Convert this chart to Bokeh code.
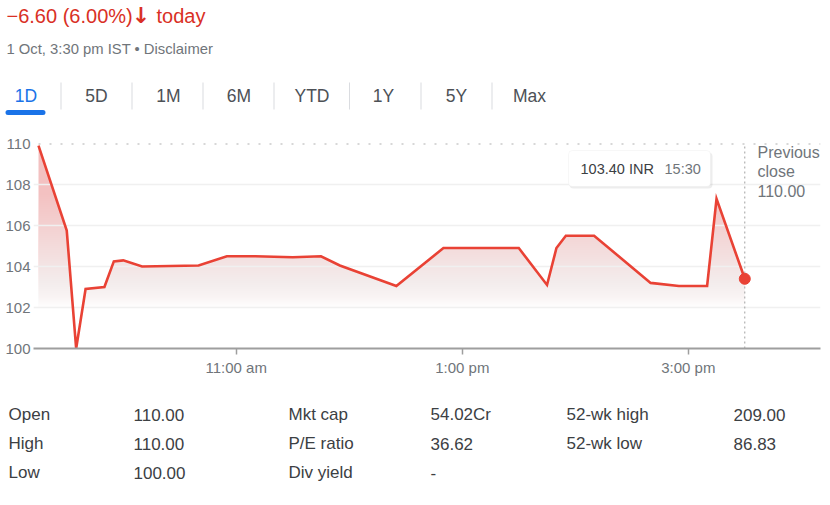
from bokeh.plotting import figure
from bokeh.models import Label, BoxAnnotation, FixedTicker, Range1d
from bokeh.layouts import column
from bokeh.embed import file_html
from bokeh.resources import INLINE
import numpy as np

# ---------------- data ----------------
times = ["09:15", "09:30", "09:35", "09:40", "09:50", "09:55", "10:00", "10:10",
         "10:40", "10:55", "11:10", "11:30", "11:45", "11:55", "12:25", "12:50",
         "13:30", "13:45", "13:50", "13:55", "14:10", "14:40", "14:55", "15:10",
         "15:15", "15:30"]
prices = [109.9, 105.75, 100.0, 102.9, 103.0, 104.25, 104.3, 104.0,
          104.05, 104.5, 104.5, 104.45, 104.5, 104.05, 103.05, 104.9,
          104.9, 103.1, 104.9, 105.5, 105.5, 103.2, 103.05, 103.05,
          107.3, 103.4]
prev_close = 110.00
currency = "INR"
y_ticks = [100, 102, 104, 106, 108, 110]
x_tick_hours = [11, 13, 15]
x_tick_labels = ["11:00 am", "1:00 pm", "3:00 pm"]
session_end_hour = 16.17
tabs = ["1D", "5D", "1M", "6M", "YTD", "1Y", "5Y", "Max"]
date_text = "1 Oct, 3:30 pm IST \u2022 Disclaimer"
stat_labels_1 = ["Open", "High", "Low"]
stat_values_1 = ["110.00", "110.00", "100.00"]
stat_labels_2 = ["Mkt cap", "P/E ratio", "Div yield"]
stat_values_2 = ["54.02Cr", "36.62", "-"]
stat_labels_3 = ["52-wk high", "52-wk low"]
stat_values_3 = ["209.00", "86.83"]

# ---------------- derived ----------------
hours = [int(t[:2]) + int(t[3:]) / 60 for t in times]
last_price = prices[-1]
chg = last_price - prev_close
pct = abs(chg) / prev_close * 100
change_text = f"\u2212{abs(chg):.2f} ({pct:.2f}%)"

# ---------------- layout constants ----------------
W = 830
HEAD_H = 125          # header strip: canvas y 0..125
CHART_BOTTOM = 390    # chart strip: canvas y 125..390
H_TOTAL = 505
FL, FR, FT, FB = 33, 820, 143, 348   # chart frame edges (canvas px)
FONT = "Liberation Sans"
RED = "#e94235"
TXT_RED = "#d93025"
GRAY = "#70757a"
DARK = "#3c4043"


def strip(height):
    f = figure(width=W, height=height, output_backend="svg", toolbar_location=None,
               x_range=Range1d(0, W), y_range=Range1d(height, 0),
               x_axis_type=None, y_axis_type=None, frame_align=False,
               min_border_left=0, min_border_right=0, min_border_top=0, min_border_bottom=0)
    f.outline_line_color = None
    f.grid.visible = False
    f.background_fill_color = "white"
    f.border_fill_color = "white"
    return f


def dlab(f, text, x, y, size, color, align="left", style="normal", font=FONT):
    f.add_layout(Label(x=x, y=y, text=text, text_font=font, text_font_size=f"{size}px",
                       text_color=color, text_align=align, text_baseline="middle",
                       text_font_style=style))


def dbox(f, l, r, t, b, color, alpha=1.0, line=None, radius=0):
    f.add_layout(BoxAnnotation(left=l, right=r, top=t, bottom=b,
                               fill_color=color, fill_alpha=alpha,
                               line_color=line, line_width=1, border_radius=radius))


# ================= header =================
head = strip(HEAD_H)
dlab(head, change_text, 6, 15, 20, TXT_RED)
dlab(head, "\u2193", 140.5, 15, 22, TXT_RED, align="center", style="bold", font="DejaVu Sans")
dlab(head, "today", 156, 15, 20, TXT_RED)
dlab(head, date_text, 6, 48, 14.8, GRAY)
tab_centers = [25.5, 96, 168, 238.5, 311.5, 383, 456, 529]
sep_x = [60.5, 131.5, 202.5, 273.5, 349, 420.5, 491.5]
for i, (t, cx) in enumerate(zip(tabs, tab_centers)):
    dlab(head, t, cx, 95, 17.5, "#1a73e8" if i == 0 else "#4d5156", align="center")
for sx in sep_x:
    dbox(head, sx - 0.5, sx + 0.5, 82, 109, "#dadce0")
dbox(head, 5, 45, 109.5, 114.5, "#1a73e8", radius=3)

# ================= chart =================
x_start = hours[0] - 5 / 113.0
p = figure(width=W, height=CHART_BOTTOM - HEAD_H, output_backend="svg", toolbar_location=None,
           x_range=Range1d(x_start, session_end_hour), y_range=Range1d(y_ticks[0], y_ticks[-1]),
           min_border_left=FL, min_border_right=W - FR, min_border_top=FT - HEAD_H,
           min_border_bottom=CHART_BOTTOM - FB, frame_align=False)
p.outline_line_color = None
p.xgrid.visible = False
p.ygrid.visible = False
p.background_fill_color = "white"
p.border_fill_color = "white"

p.yaxis.ticker = FixedTicker(ticks=y_ticks)
p.yaxis.axis_line_color = None
p.yaxis.major_tick_line_color = None
p.yaxis.minor_tick_line_color = None
p.yaxis.major_tick_out = 0
p.yaxis.major_tick_in = 0
p.yaxis.major_label_standoff = 3
p.yaxis.major_label_text_font = FONT
p.yaxis.major_label_text_font_size = "15px"
p.yaxis.major_label_text_color = GRAY

p.xaxis.ticker = FixedTicker(ticks=x_tick_hours)
p.xaxis.major_label_overrides = {h: l for h, l in zip(x_tick_hours, x_tick_labels)}
p.xaxis.axis_line_color = "#9e9e9e"
p.xaxis.axis_line_width = 2
p.xaxis.major_tick_line_color = "#9e9e9e"
p.xaxis.major_tick_line_width = 1.5
p.xaxis.major_tick_out = 6
p.xaxis.major_tick_in = 0
p.xaxis.minor_tick_line_color = None
p.xaxis.major_label_standoff = 4
p.xaxis.major_label_text_font = FONT
p.xaxis.major_label_text_font_size = "15px"
p.xaxis.major_label_text_color = GRAY

# area fill with vertical fade: pink near the top, white toward the bottom
p.varea(x=hours, y1=[y_ticks[0]] * len(hours), y2=prices, fill_color="#f3c0c0")
step = 0.1
tops = np.arange(y_ticks[-1] - step, y_ticks[0], -step)
remain = np.clip((tops - 102.0) / (y_ticks[-1] - 102.0), 0, 1)   # pink share left below each top
prev = np.concatenate([[1.0], remain[:-1]])
layer_alpha = np.where(prev > 0, 1 - remain / np.where(prev > 0, prev, 1), 0.0)
layer_alpha = np.clip(layer_alpha, 0, 1)
keep = layer_alpha > 0
p.quad(left=x_start, right=session_end_hour, bottom=y_ticks[0], top=tops[keep],
       fill_color="white", fill_alpha=layer_alpha[keep], line_color=None)

# gridlines
grid_vals = y_ticks[1:-1]
p.segment(x0=[x_start] * len(grid_vals), x1=[session_end_hour] * len(grid_vals),
          y0=grid_vals, y1=grid_vals, line_color="#f0f0f0", line_width=1.5)

# previous-close dotted line and current-time vertical line
p.segment(x0=[hours[0]], x1=[session_end_hour], y0=[prev_close], y1=[prev_close],
          line_color="#b0b0b0", line_width=2, line_dash="2 9")
p.segment(x0=[hours[-1]], x1=[hours[-1]], y0=[y_ticks[0]], y1=[y_ticks[-1]],
          line_color="#a0a0a0", line_width=1, line_dash="2 3")

# price line
p.line(x=hours, y=prices, line_color=RED, line_width=2.6, line_join="miter")
p.scatter(x=[hours[-1]], y=[last_price], size=11, color=RED)


def lab(text, cx, cy, size, color, align="left"):
    p.add_layout(Label(x=cx - FL, y=FB - cy, x_units="screen", y_units="screen",
                       text=text, text_font=FONT, text_font_size=f"{size}px",
                       text_color=color, text_align=align, text_baseline="middle"))


def box(l, r, t, b, color, alpha=1.0, line=None, radius=0):
    p.add_layout(BoxAnnotation(left=l - FL, right=r - FL, top=FB - t, bottom=FB - b,
                               left_units="screen", right_units="screen",
                               top_units="screen", bottom_units="screen",
                               fill_color=color, fill_alpha=alpha,
                               line_color=line, line_width=1, border_radius=radius))


# tooltip
box(569, 712, 152, 188, "black", alpha=0.07, radius=4)
box(568, 710, 150, 186, "white", line="#e3e3e3", radius=4)
lab(f"{last_price:.2f} {currency}", 580, 168, 14.5, DARK)
lab(times[-1], 664, 168, 14.5, GRAY)

# previous close note
lab("Previous", 757, 152, 16, GRAY)
lab("close", 757, 171, 16, GRAY)
lab(f"{prev_close:.2f}", 757, 190, 16, GRAY)

# ================= stats table =================
foot = strip(H_TOTAL - CHART_BOTTOM)
row_y = [414, 443, 472]
for labels, values, lx, vx in [(stat_labels_1, stat_values_1, 8, 133),
                               (stat_labels_2, stat_values_2, 288, 430),
                               (stat_labels_3, stat_values_3, 566, 733)]:
    for lt, vt, ry in zip(labels, values, row_y):
        dlab(foot, lt, lx, ry - CHART_BOTTOM, 17, DARK)
        dlab(foot, vt, vx, ry - CHART_BOTTOM, 17, DARK)

layout = column(head, p, foot, spacing=0)
open("out.html", "w").write(file_html(layout, INLINE))
